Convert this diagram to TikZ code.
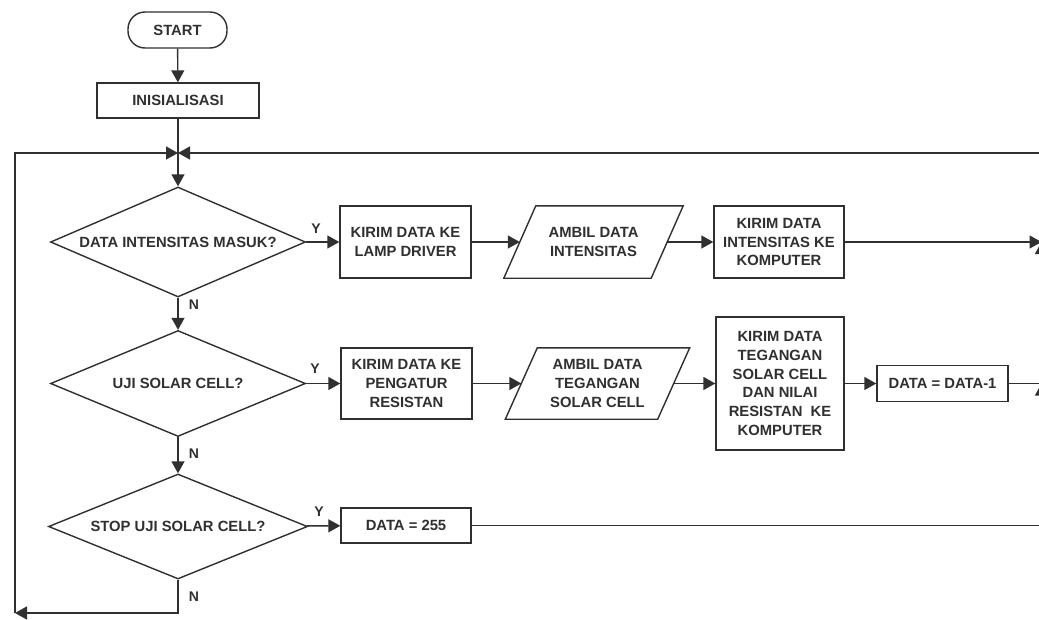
\documentclass[tikz,border=0pt]{standalone}
\usepackage{fontspec}
\setmainfont{Liberation Sans}
\usetikzlibrary{shapes.geometric,arrows.meta}
\definecolor{ink}{HTML}{303030}
\begin{document}
\begin{tikzpicture}[x=1pt,y=-1pt,
  every node/.style={font=\fontsize{14.8}{18.7}\selectfont\bfseries, text=ink, align=center, inner sep=0pt},
  procbox/.style={draw=ink, line width=1.4pt, rectangle},
  termbox/.style={draw=ink, line width=1.4pt, rectangle, rounded corners=17pt},
  dia/.style={draw=ink, line width=1.4pt, diamond},
  iobox/.style={rectangle},
  arr/.style={draw=ink, line width=1.4pt, -{Triangle[length=12pt,width=13pt]}},
  ln/.style={draw=ink, line width=1.4pt},
  lbl/.style={font=\fontsize{14}{15}\selectfont\bfseries}
]
\useasboundingbox (0,0) rectangle (1039,619);
\clip (0,0) rectangle (1039,619);
\fill[white] (0,0) rectangle (1039,619);

% column 1
\node[termbox, minimum width=99pt, minimum height=36pt] (start) at (177.5,30) {START};
\node[procbox, minimum width=162pt, minimum height=35pt] (init) at (178,100.5) {INISIALISASI};
\node[dia, minimum width=255pt, minimum height=110pt] (d1) at (178,242) {\makebox[0pt]{DATA INTENSITAS MASUK?}};
\node[dia, minimum width=255pt, minimum height=106pt] (d2) at (178,383.5) {\makebox[0pt]{UJI SOLAR CELL?}};
\node[dia, minimum width=259pt, minimum height=105pt] (d3) at (178,526.5) {\makebox[0pt]{STOP UJI SOLAR CELL?}};

% row 1
\node[procbox, minimum width=131pt, minimum height=72pt] (b1) at (405.5,242) {KIRIM DATA KE\\LAMP DRIVER};
\node[iobox, minimum width=147pt, minimum height=72pt] (p1) at (593.5,242) {AMBIL DATA\\INTENSITAS};
\draw[ln] ([xshift=16pt]p1.north west) -- ([xshift=16pt]p1.north east) -- ([xshift=-16pt]p1.south east) -- ([xshift=-16pt]p1.south west) -- cycle;
\node[procbox, minimum width=130pt, minimum height=72pt] (b2) at (779,242) {KIRIM DATA\\INTENSITAS KE\\KOMPUTER};

% row 2
\node[procbox, minimum width=131pt, minimum height=71pt] (b3) at (406.5,383.5) {KIRIM DATA KE\\PENGATUR\\RESISTAN};
\node[iobox, minimum width=152pt, minimum height=71pt] (p2) at (597.5,383.5) {AMBIL DATA\\TEGANGAN\\SOLAR CELL};
\draw[ln] ([xshift=16pt]p2.north west) -- ([xshift=16pt]p2.north east) -- ([xshift=-16pt]p2.south east) -- ([xshift=-16pt]p2.south west) -- cycle;
\node[procbox, minimum width=128pt, minimum height=133pt] (b4) at (780,383.5) {KIRIM DATA\\TEGANGAN\\SOLAR CELL\\DAN NILAI\\RESISTAN\ \ KE\\KOMPUTER};
\node[procbox, minimum width=131pt, minimum height=36pt] (b5) at (942.5,383.5) {DATA = DATA-1};

% row 3
\node[procbox, minimum width=130pt, minimum height=35pt] (b6) at (406,525.5) {DATA = 255};

% labels
\node[lbl] (y1) at (316,229) {Y};
\node[lbl] (y2) at (315,369) {Y};
\node[lbl] (y3) at (319,512) {Y};
\node[lbl] (n1) at (194,305) {N};
\node[lbl] (n2) at (194,454) {N};
\node[lbl] (n3) at (194,597) {N};

% coordinates
\coordinate (m) at (178,153);
\coordinate (bc) at (178,613);
\coordinate (bl) at (15,613);
\coordinate (r1) at (1041.5,242);
\coordinate (r2) at (1041.5,383.5);
\coordinate (r3) at (1041.5,525.5);

% connectors
\draw[arr] (start) -- (init);
\draw[ln] (init) -- (m);
\draw[arr] (m) -- (d1);
\draw[arr] (d1) -- (d2);
\draw[arr] (d2) -- (d3);
\draw[arr] (d1) -- (b1);
\draw[arr] (b1) -- (p1);
\draw[arr] (p1) -- (b2);
\draw[arr] (b2) -- (r1);
\draw[arr] (d2) -- (b3);
\draw[arr] (b3) -- (p2);
\draw[arr] (p2) -- (b4);
\draw[arr] (b4) -- (b5);
\draw[ln] (b5) -- (r2);
\draw[arr] (d3) -- (b6);
\draw[ln] (b6) -- (r3);
\draw[arr] (r3) -- (r2);
\draw[arr] (r2) -- (r1);
\draw[arr] (r1) |- (m);
\draw[arr] (d3) -- (bc) -- (bl);
\draw[arr] (bl) |- (m);
\end{tikzpicture}
\end{document}
